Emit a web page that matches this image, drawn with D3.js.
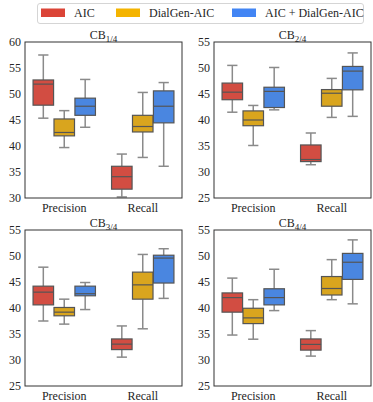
<!DOCTYPE html>
<meta charset="utf-8">
<style>
body { margin: 0; background: #fff; }
svg text { font-family: "Liberation Serif", "Times New Roman", serif; fill: #262626; }
</style>
<script src="https://d3js.org/d3.v7.min.js"></script>
<svg width="373" height="402"></svg>
<script>

var series = ["AIC", "DialGen-AIC", "AIC + DialGen-AIC"];
var metrics = ["Precision", "Recall"];
var legendColors = ["#db4437", "#f4b400", "#4285f4"];
var boxColors = ["#d24d42", "#d9a51e", "#4a86e0"];

// each box: [low whisker, q1, median, q3, high whisker]
var cb1 = [
  [[45.35, 47.85, 51.9, 52.7, 57.5], [30.2, 31.7, 34.1, 36.1, 38.45]],
  [[39.7, 41.95, 42.6, 45.2, 46.8], [37.8, 42.7, 43.75, 45.9, 50.3]],
  [[43.6, 45.9, 47.65, 49.2, 52.8], [36.1, 44.45, 47.65, 50.6, 52.2]]
];
var cb2 = [
  [[41.5, 43.9, 45.35, 47.1, 50.5], [31.4, 32.0, 32.4, 35.2, 37.5]],
  [[35.1, 38.9, 40.0, 41.75, 42.8], [40.5, 42.65, 45.15, 45.85, 48.0]],
  [[41.95, 42.4, 45.5, 46.3, 50.1], [40.7, 45.8, 49.4, 50.3, 52.9]]
];
var cb3 = [
  [[37.5, 40.6, 43.05, 44.2, 47.85], [30.55, 32.0, 33.05, 34.05, 36.55]],
  [[36.9, 38.5, 39.2, 40.1, 41.7], [36.0, 41.7, 44.45, 46.9, 50.3]],
  [[39.7, 42.35, 42.75, 44.2, 44.9], [41.85, 44.8, 49.6, 50.15, 51.4]]
];
var cb4 = [
  [[34.8, 39.2, 42.0, 42.9, 45.75], [30.75, 31.9, 33.0, 34.05, 35.65]],
  [[34.0, 37.0, 38.1, 39.95, 41.6], [41.6, 42.5, 43.75, 46.05, 49.3]],
  [[39.5, 40.6, 42.0, 43.7, 47.45], [40.8, 45.5, 48.8, 50.5, 53.1]]
];

var panels = [
  {sub: "1/4", data: cb1, domain: [30, 60], ticks: [30, 35, 40, 45, 50, 55, 60], x: 25, y: 42},
  {sub: "2/4", data: cb2, domain: [25, 55], ticks: [25, 30, 35, 40, 45, 50, 55], x: 214, y: 42},
  {sub: "3/4", data: cb3, domain: [25, 55], ticks: [25, 30, 35, 40, 45, 50, 55], x: 25, y: 230},
  {sub: "4/4", data: cb4, domain: [25, 55], ticks: [25, 30, 35, 40, 45, 50, 55], x: 214, y: 230}
];

var svg = d3.select("svg");
var pw = 157, ph = 156;

panels.forEach(function(p) {
  var g = svg.append("g").attr("transform", "translate(" + p.x + "," + p.y + ")");
  var y = d3.scaleLinear().domain(p.domain).range([ph, 0]);
  var x = d3.scaleBand().domain(metrics).range([0, pw]);
  var hx = d3.scaleBand().domain(series).range([0, x.bandwidth() * 0.8]);
  var off = x.bandwidth() * 0.1;
  var bw = hx.bandwidth() * 0.98;

  series.forEach(function(s, si) {
    metrics.forEach(function(m, mi) {
      var d = p.data[si][mi];
      var cx = x(m) + off + hx(s) + hx.bandwidth() / 2;
      var b = g.append("g");
      // whiskers and caps
      b.append("line").attr("x1", cx).attr("x2", cx).attr("y1", y(d[0])).attr("y2", y(d[1]))
        .attr("stroke", "#8a8a8a").attr("stroke-width", 1.5);
      b.append("line").attr("x1", cx).attr("x2", cx).attr("y1", y(d[3])).attr("y2", y(d[4]))
        .attr("stroke", "#8a8a8a").attr("stroke-width", 1.5);
      b.append("line").attr("x1", cx - bw / 4).attr("x2", cx + bw / 4).attr("y1", y(d[0])).attr("y2", y(d[0]))
        .attr("stroke", "#8a8a8a").attr("stroke-width", 1.5);
      b.append("line").attr("x1", cx - bw / 4).attr("x2", cx + bw / 4).attr("y1", y(d[4])).attr("y2", y(d[4]))
        .attr("stroke", "#8a8a8a").attr("stroke-width", 1.5);
      b.append("rect").attr("x", cx - bw / 2).attr("width", bw)
        .attr("y", y(d[3])).attr("height", y(d[1]) - y(d[3]))
        .attr("fill", boxColors[si]).attr("stroke", "#555").attr("stroke-width", 1.2);
      b.append("line").attr("x1", cx - bw / 2).attr("x2", cx + bw / 2).attr("y1", y(d[2])).attr("y2", y(d[2]))
        .attr("stroke", "#555").attr("stroke-width", 1.2);
    });
  });

  g.append("rect").attr("width", pw).attr("height", ph)
    .attr("fill", "none").attr("stroke", "#333").attr("stroke-width", 1);

  g.selectAll(".yt").data(p.ticks).enter().append("text")
    .attr("x", -4).attr("y", function(t) { return y(t); }).attr("dy", "0.35em")
    .attr("text-anchor", "end").attr("font-size", 12).text(function(t) { return t; });

  g.selectAll(".xt").data(metrics).enter().append("text")
    .attr("x", function(m) { return x(m) + x.bandwidth() / 2; }).attr("y", ph + 14)
    .attr("text-anchor", "middle").attr("font-size", 12).text(function(m) { return m; });

  var t = g.append("text").attr("x", pw / 2).attr("y", -3).attr("text-anchor", "middle").attr("font-size", 12);
  t.append("tspan").text("CB");
  t.append("tspan").attr("font-size", 9).attr("dy", 3).text(p.sub);
});

// legend
var lg = svg.append("g");
lg.append("rect").attr("x", 37.5).attr("y", 3.5).attr("width", 326).attr("height", 20).attr("rx", 2.5)
  .attr("fill", "#fff").attr("stroke", "#d5d5d5");
var lx = [41, 116, 232];
series.forEach(function(s, i) {
  lg.append("rect").attr("x", lx[i]).attr("y", 8.5).attr("width", 24).attr("height", 8.5).attr("fill", legendColors[i]);
  lg.append("text").attr("x", lx[i] + 33).attr("y", 17).attr("font-size", 12).text(s);
});

</script>
